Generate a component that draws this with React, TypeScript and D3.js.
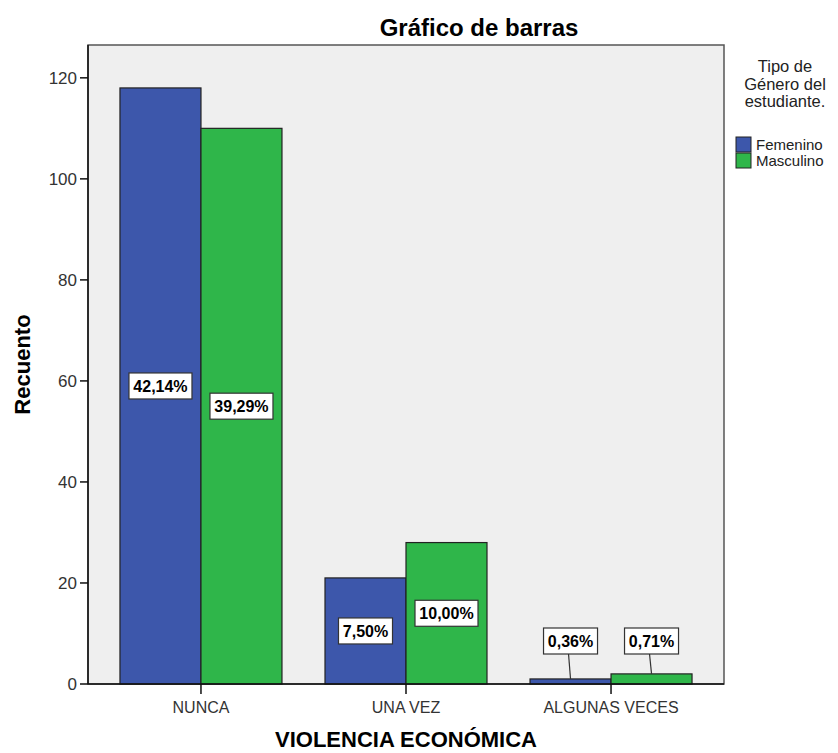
import React from "react";
import * as d3 from "d3";

const categories = ["NUNCA", "UNA VEZ", "ALGUNAS VECES"];
const seriesNames = ["Femenino", "Masculino"];
const femenino = [118, 21, 1];
const masculino = [110, 28, 2];
const femeninoPct = ["42,14%", "7,50%", "0,36%"];
const masculinoPct = ["39,29%", "10,00%", "0,71%"];
const yTicks = [0, 20, 40, 60, 80, 100, 120];
const colors = ["#3d57ab", "#2fb64a"];

const W = 838;
const H = 753;
const FONT = "'Liberation Sans', Arial, sans-serif";

export default function App() {
  const left = 88, right = 724, top = 45, bottom = 684;
  const y = d3.scaleLinear().domain([0, 126.5]).range([bottom, top]);
  const x = d3.scalePoint<string>().domain(categories).range([left, right]).padding(0.551);
  const barW = 81;
  const series = [femenino, masculino];
  const pcts = [femeninoPct, masculinoPct];

  const bars: any[] = [];
  const labels: any[] = [];
  categories.forEach((c, ci) => {
    const cx = x(c)!;
    series.forEach((s, si) => {
      const v = s[ci];
      const x0 = cx - barW + si * barW;
      bars.push(
        <rect key={`b${ci}-${si}`} x={x0} y={y(v)} width={barW} height={bottom - y(v)}
          fill={colors[si]} stroke="#222" strokeWidth={1.2} />
      );
      const bcx = x0 + barW / 2;
      const text = pcts[si][ci];
      const bw = text.length <= 5 ? 54 : 63;
      const bh = 26;
      const inside = bottom - y(v) > 60;
      const lcy = inside ? y(v / 2) : y(0) - 43;
      labels.push(
        <g key={`l${ci}-${si}`}>
          {!inside && (
            <line x1={bcx - 2} y1={lcy + bh / 2} x2={bcx} y2={y(v)} stroke="#333" strokeWidth={1.2} />
          )}
          <rect x={bcx - bw / 2} y={lcy - bh / 2} width={bw} height={bh} fill="#fff" stroke="#333" strokeWidth={1.2} />
          <text x={bcx} y={lcy + 6} textAnchor="middle" fontFamily={FONT} fontWeight="bold" fontSize={16} fill="#000">
            {text}
          </text>
        </g>
      );
    });
  });

  return (
    <svg width={W} height={H} style={{ position: "absolute", left: 0, top: 0 }}>
      <rect x={0} y={0} width={W} height={H} fill="#fff" />
      <text x={479} y={36} textAnchor="middle" fontFamily={FONT} fontWeight="bold" fontSize={24} fill="#000">
        Gráfico de barras
      </text>
      <rect x={left} y={top} width={right - left} height={bottom - top} fill="#efefef" stroke="#555" strokeWidth={1.5} />
      {bars}
      <line x1={left} y1={bottom} x2={right} y2={bottom} stroke="#111" strokeWidth={1.5} />
      <line x1={left} y1={top} x2={left} y2={bottom} stroke="#111" strokeWidth={1.5} />
      {yTicks.map((t) => (
        <g key={`t${t}`}>
          <line x1={left - 8} x2={left} y1={y(t)} y2={y(t)} stroke="#111" strokeWidth={1.5} />
          <text x={left - 11} y={y(t) + 6} textAnchor="end" fontFamily={FONT} fontSize={17} fill="#333">
            {t}
          </text>
        </g>
      ))}
      {categories.map((c) => (
        <g key={`c${c}`}>
          <line x1={x(c)!} x2={x(c)!} y1={bottom} y2={bottom + 10} stroke="#111" strokeWidth={1.5} />
          <text x={x(c)!} y={713} textAnchor="middle" fontFamily={FONT} fontSize={16} fill="#333">
            {c}
          </text>
        </g>
      ))}
      {labels}
      <text x={(left + right) / 2} y={747} textAnchor="middle" fontFamily={FONT} fontWeight="bold" fontSize={22} fill="#000">
        VIOLENCIA ECONÓMICA
      </text>
      <text transform={`translate(30,${(top + bottom) / 2}) rotate(-90)`} textAnchor="middle" fontFamily={FONT}
        fontWeight="bold" fontSize={22} fill="#000">
        Recuento
      </text>
      <g fontFamily={FONT} fill="#222">
        {["Tipo de", "Género del", "estudiante."].map((l, i) => (
          <text key={l} x={785} y={72 + i * 17.5} textAnchor="middle" fontSize={16.5}>
            {l}
          </text>
        ))}
        {seriesNames.map((n, i) => (
          <g key={n}>
            <rect x={736} y={137 + i * 16} width={15} height={15} fill={colors[i]} stroke="#222" strokeWidth={1} />
            <text x={756} y={150 + i * 16} fontSize={15}>
              {n}
            </text>
          </g>
        ))}
      </g>
    </svg>
  );
}
